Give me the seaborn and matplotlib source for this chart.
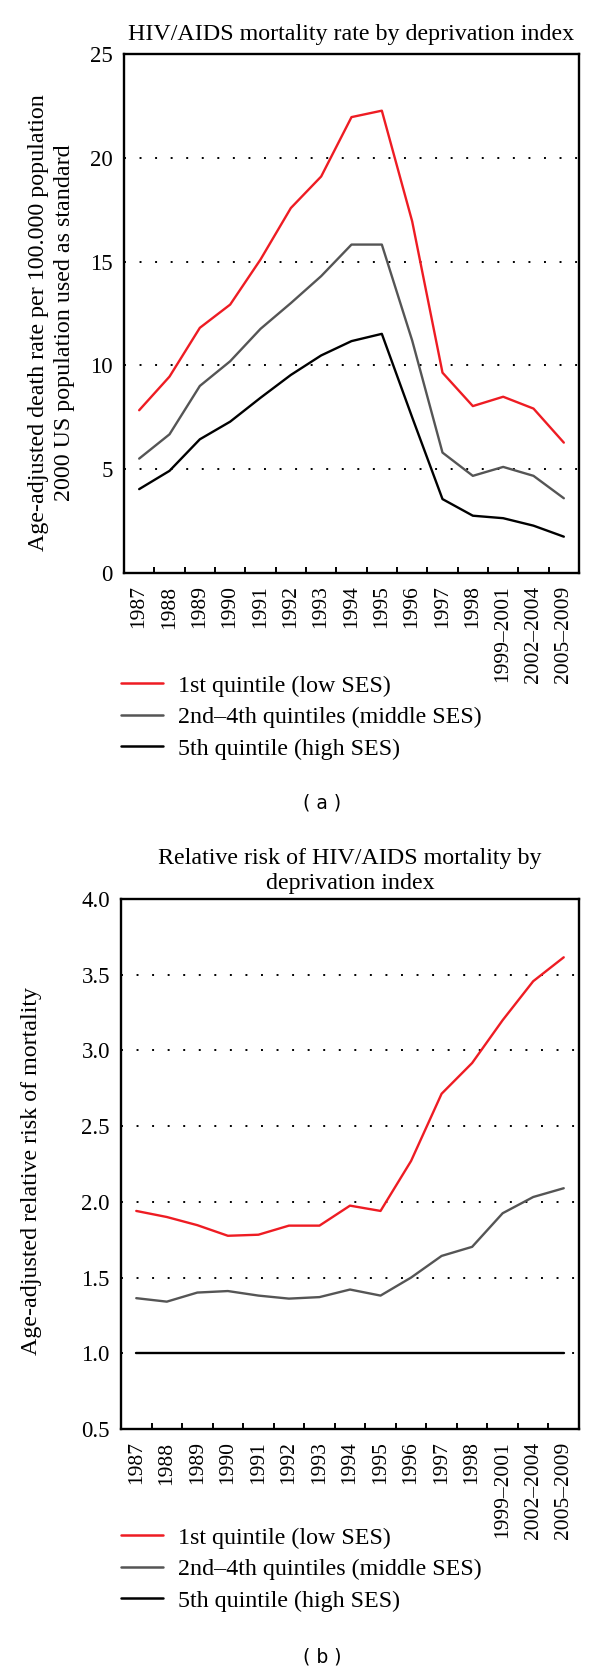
import numpy as np
import pandas as pd
import matplotlib
matplotlib.use("Agg")
import matplotlib.pyplot as plt
import seaborn as sns
from matplotlib.ticker import FixedLocator

# ---------------- data ----------------
periods = ["1987", "1988", "1989", "1990", "1991", "1992", "1993", "1994",
           "1995", "1996", "1997", "1998", "1999\u20132001", "2002\u20132004",
           "2005\u20132009"]
groups = ["1st quintile (low SES)", "2nd\u20134th quintiles (middle SES)",
          "5th quintile (high SES)"]

rate_low = [7.84, 9.46, 11.81, 12.93, 15.1, 17.58, 19.1, 21.96, 22.27, 16.94,
            9.65, 8.04, 8.49, 7.92, 6.28]
rate_mid = [5.51, 6.68, 9.01, 10.2, 11.76, 13.0, 14.3, 15.82, 15.82, 11.2,
            5.8, 4.68, 5.11, 4.68, 3.6]
rate_high = [4.04, 4.92, 6.44, 7.29, 8.44, 9.54, 10.48, 11.17, 11.52, 7.5,
             3.56, 2.76, 2.64, 2.28, 1.75]

rr_low = [1.94, 1.90, 1.846, 1.776, 1.783, 1.843, 1.843, 1.975, 1.94, 2.27,
          2.714, 2.917, 3.20, 3.457, 3.615]
rr_mid = [1.364, 1.341, 1.401, 1.411, 1.381, 1.361, 1.371, 1.421, 1.381, 1.50,
          1.643, 1.703, 1.925, 2.032, 2.09]
rr_high = [1.0] * 15

rate_ticks = [0, 5, 10, 15, 20, 25]
rr_ticks = [0.5, 1.0, 1.5, 2.0, 2.5, 3.0, 3.5, 4.0]

colors = ["#ee1c23", "#555555", "#000000"]


def long_frame(series):
    rows = []
    for g, vals in zip(groups, series):
        for i, (p, v) in enumerate(zip(periods, vals)):
            rows.append({"period": p, "pos": i, "group": g, "value": v})
    return pd.DataFrame(rows)


df_rate = long_frame([rate_low, rate_mid, rate_high])
df_rr = long_frame([rr_low, rr_mid, rr_high])

# ---------------- style ----------------
sns.set_theme(style="white")
plt.rcParams["font.family"] = ["Liberation Serif", "DejaVu Serif"]

FS = 17.3      # titles, axis labels, legend
FS_X = 15.5    # rotated x tick labels
FS_Y = 16.5    # y tick labels
W, H = 600, 1673
fig = plt.figure(figsize=(W / 100, H / 100), dpi=100)
fig.patch.set_facecolor("white")


def px_rect(left, top, right, bottom):
    return [left / W, 1 - bottom / H, (right - left) / W, (bottom - top) / H]


def style_axis(ax, ticks, fmt, ylabel, label_x, label_y):
    ax.set_xlim(-0.5, len(periods) - 0.5)
    ax.set_ylim(ticks[0], ticks[-1])
    ax.set_yticks(ticks)
    ax.set_yticklabels([fmt.format(t) for t in ticks], fontsize=FS_Y)
    ax.set_xticks(range(len(periods)))
    ax.set_xticklabels(periods, rotation=90, fontsize=FS_X, va="top")
    ax.xaxis.set_minor_locator(FixedLocator(np.arange(0.5, len(periods) - 1, 1.0)))
    ax.tick_params(axis="x", which="major", length=0, pad=9, colors="black")
    ax.tick_params(axis="x", which="minor", direction="in", length=4.5,
                   width=1.4, color="black", bottom=True)
    ax.tick_params(axis="y", which="major", length=0, pad=8, colors="black")
    for s in ax.spines.values():
        s.set_visible(True)
        s.set_color("black")
        s.set_linewidth(1.7)
    ax.yaxis.grid(True, linestyle=(0, (1, 7)), color="black", linewidth=1.4)
    ax.xaxis.grid(False)
    ax.set_axisbelow(True)
    ax.set_xlabel("")
    ax.set_ylabel(ylabel, fontsize=FS, color="black", linespacing=1.3)
    ax.yaxis.set_label_coords(label_x, label_y)


def add_legend(ax, top_px):
    handles = ax.get_lines()[:3]
    leg = fig.legend(handles, groups, loc="upper left",
                     bbox_to_anchor=(121 / W, 1 - top_px / H),
                     bbox_transform=fig.transFigure, frameon=False,
                     fontsize=FS, handlelength=1.75, handletextpad=0.62,
                     labelspacing=0.40, borderpad=0, borderaxespad=0)
    for t in leg.get_texts():
        t.set_color("black")
    for l in leg.get_lines():
        l.set_linewidth(1.8)


# ---------------- panel (a) ----------------
ax1 = fig.add_axes(px_rect(124, 54, 579, 573))
sns.lineplot(data=df_rate, x="pos", y="value", hue="group", hue_order=groups,
             palette=colors, linewidth=1.7, sort=False, legend=False, ax=ax1)
style_axis(ax1, rate_ticks, "{:g}",
           "Age-adjusted death rate per 100.000 population\n"
           "2000 US population used as standard", -0.108, 0.482)
ax1.set_title("HIV/AIDS mortality rate by deprivation index", fontsize=FS,
              pad=10, color="black")
add_legend(ax1, 675)
fig.text(322 / W, 1 - 803 / H, "( a )", ha="center", va="center",
         fontsize=13.5, family="DejaVu Sans", color="black")

# ---------------- panel (b) ----------------
ax2 = fig.add_axes(px_rect(121, 899, 579, 1429))
sns.lineplot(data=df_rr, x="pos", y="value", hue="group", hue_order=groups,
             palette=colors, linewidth=1.7, sort=False, legend=False, ax=ax2)
style_axis(ax2, rr_ticks, "{:.1f}",
           "Age-adjusted relative risk of mortality", -0.172, 0.486)
ax2.set_title("Relative risk of HIV/AIDS mortality by\ndeprivation index",
              fontsize=FS, pad=7, color="black", linespacing=1.25)
add_legend(ax2, 1527)
fig.text(322 / W, 1 - 1657 / H, "( b )", ha="center", va="center",
         fontsize=13.5, family="DejaVu Sans", color="black")

fig.savefig("out.png", dpi=100, facecolor="white")
